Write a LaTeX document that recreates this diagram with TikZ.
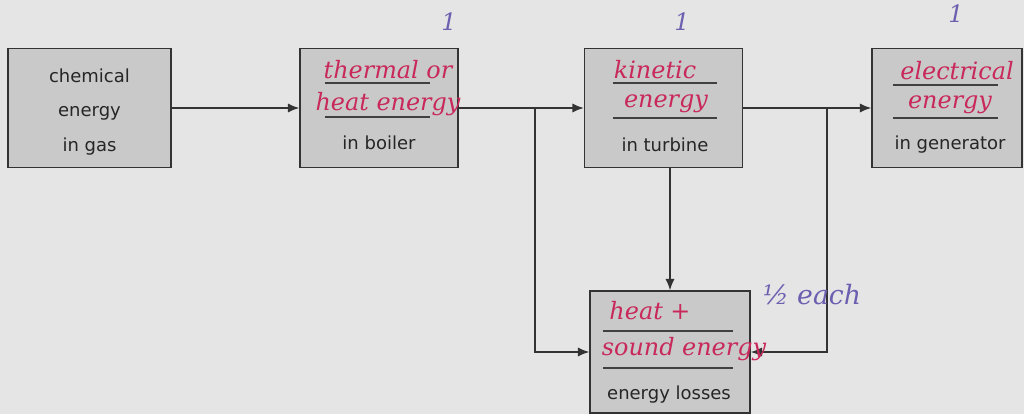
\documentclass[tikz,border=0pt]{standalone}
\usepackage{fontspec}
\setmainfont{DejaVu Sans}
\newfontfamily\handfont{DejaVu Serif}
\usetikzlibrary{arrows.meta}

\begin{document}
\begin{tikzpicture}[x=0.025cm,y=-0.025cm,
    box/.style={draw=black!80, line width=1.1pt, fill=boxgrey, inner sep=0pt,
      minimum width=3.95cm, minimum height=2.98cm},
    flow/.style={line width=0.9pt, draw=black!80, -{Latex[length=8pt,width=6.5pt]}},
    rule/.style={line width=0.9pt, draw=black!75},
    printed/.style={font=\fontsize{12.8}{15}\selectfont, text=black!85},
    answer/.style={font=\handfont\itshape\fontsize{17}{19}\selectfont, text=penred},
    tick/.style={font=\handfont\itshape\fontsize{17}{19}\selectfont, text=penblue}]
    \colorlet{paper}{black!10}
    \colorlet{boxgrey}{black!21}
    \definecolor{penred}{HTML}{C8285A}
    \definecolor{penblue}{HTML}{6B5FB0}
    \useasboundingbox (0,0) rectangle (1024,414);
    \fill[paper] (0,0) rectangle (1024,414);
    \clip (0,0) rectangle (1024,414);

    % boxes
    \node[box, minimum width=4.08cm] (chem) at (89.5,108) {};
    \node[box] (boiler) at (379,108) {};
    \node[box] (turbine) at (663.5,108) {};
    \node[box, minimum width=3.75cm] (gen) at (947,108) {};
    \node[box, minimum width=4cm, minimum height=3.05cm] (losses) at (670,352) {};

    % printed labels
    \node[printed, align=center, font=\fontsize{12.8}{24.8}\selectfont] (chemlbl) at (89.5,112) {chemical\\energy\\in gas};
    \node[printed] (boilerlbl) at (379,143) {in boiler};
    \node[printed] (turbinelbl) at (665,145) {in turbine};
    \node[printed] (genlbl) at (950,145) {in generator};
    \node[printed] (losseslbl) at (669,395) {energy losses};

    % answer lines
    \draw[rule] (325,83) -- (430,83);
    \draw[rule] (325,117) -- (430,117);
    \draw[rule] (613,83) -- (717,83);
    \draw[rule] (613,118) -- (717,118);
    \draw[rule] (893,85) -- (998,85);
    \draw[rule] (893,118) -- (998,118);
    \draw[rule] (603,331) -- (733,331);
    \draw[rule] (603,368) -- (733,368);

    % connectors
    \coordinate (split1) at (535,108);
    \coordinate (split2) at (827,108);
    \draw[flow] (chem) -- (boiler);
    \draw[flow] (boiler) -- (turbine);
    \draw[flow] (turbine) -- (gen);
    \draw[flow] (losses.north |- turbine.south) -- (losses.north);
    \draw[flow] (split1) |- (losses.west);
    \draw[flow] (split2) |- (losses.east);

    % handwritten answers
    \node[answer] (ans1a) at (388,70) {thermal or};
    \node[answer] (ans1b) at (388,104) {heat energy};
    \node[answer] (ans2a) at (655,70) {kinetic};
    \node[answer] (ans2b) at (666,104) {energy};
    \node[answer] (ans3a) at (957,71) {electrical};
    \node[answer] (ans3b) at (950,105) {energy};
    \node[answer] (ans4a) at (650,311) {heat +};
    \node[answer] (ans4b) at (684,349) {sound energy};

    % marks
    \node[tick] (mk1) at (449,22) {1};
    \node[tick] (mk2) at (682,22) {1};
    \node[tick] (mk3) at (956,14) {1};
    \node[tick, font=\handfont\itshape\fontsize{19}{21}\selectfont] (mk4) at (812,295) {½ each};
\end{tikzpicture}
\end{document}
